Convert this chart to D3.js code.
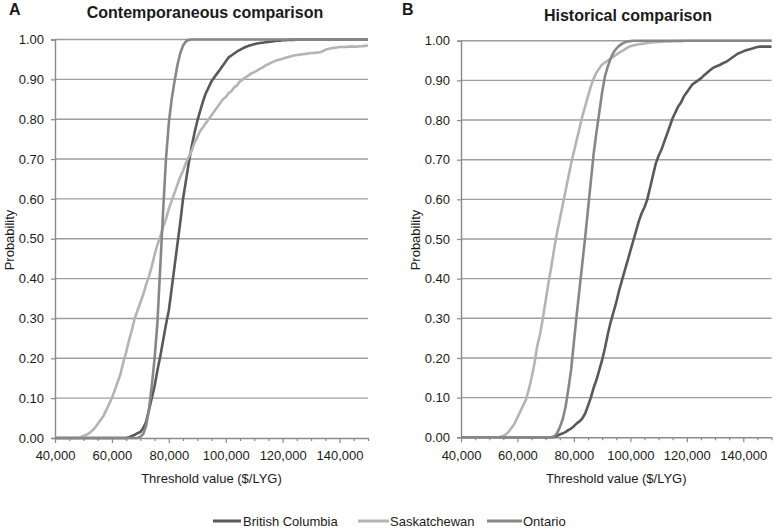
<!DOCTYPE html>
<html>
<head>
<meta charset="utf-8">
<script src="https://cdn.jsdelivr.net/npm/d3@7"></script>
<style>
  html, body { margin: 0; padding: 0; background: #fff; }
  svg { display: block; font-family: "Liberation Sans", Arial, sans-serif; }
</style>
</head>
<body>
<svg id="chart" width="774" height="531"></svg>
<script>
// ---------------- DATA ----------------
const thresholds = [
  40000,41000,42000,43000,44000,45000,46000,47000,48000,49000,
  50000,51000,52000,53000,54000,55000,56000,57000,58000,59000,
  60000,61000,62000,63000,64000,65000,66000,67000,68000,69000,
  70000,71000,72000,73000,74000,75000,76000,77000,78000,79000,
  80000,81000,82000,83000,84000,85000,86000,87000,88000,89000,
  90000,91000,92000,93000,94000,95000,96000,97000,98000,99000,
  100000,101000,102000,103000,104000,105000,106000,107000,108000,109000,
  110000,111000,112000,113000,114000,115000,116000,117000,118000,119000,
  120000,121000,122000,123000,124000,125000,126000,127000,128000,129000,
  130000,131000,132000,133000,134000,135000,136000,137000,138000,139000,
  140000,141000,142000,143000,144000,145000,146000,147000,148000,149000,
  150000
];

const seriesNames = ["British Columbia", "Saskatchewan", "Ontario"];

// Panel A: Contemporaneous comparison
const contempBC = [
  0,0,0,0,0,0,0,0,0,0,
  0,0,0,0,0,0,0,0,0,0,
  0,0,0,0,0,0,0.002,0.005,0.008,0.012,
  0.015,0.025,0.04,0.07,0.10,0.13,0.17,0.205,0.245,0.285,
  0.32,0.375,0.43,0.485,0.54,0.60,0.645,0.69,0.73,0.765,
  0.795,0.82,0.845,0.865,0.88,0.895,0.905,0.915,0.925,0.935,
  0.945,0.955,0.96,0.965,0.97,0.974,0.978,0.981,0.984,0.986,
  0.988,0.99,0.991,0.992,0.993,0.994,0.995,0.996,0.997,0.997,
  0.998,0.998,0.999,0.999,0.999,1,1,1,1,1,
  1,1,1,1,1,1,1,1,1,1,
  1,1,1,1,1,1,1,1,1,1,
  1
];
const contempSK = [
  0,0,0,0,0,0,0,0,0,0.002,
  0.005,0.008,0.012,0.018,0.025,0.035,0.045,0.055,0.07,0.085,
  0.10,0.12,0.14,0.16,0.19,0.215,0.245,0.27,0.30,0.32,
  0.34,0.36,0.385,0.405,0.43,0.46,0.485,0.505,0.53,0.55,
  0.575,0.595,0.615,0.635,0.655,0.67,0.69,0.705,0.72,0.74,
  0.755,0.77,0.78,0.79,0.80,0.81,0.82,0.83,0.84,0.85,
  0.855,0.865,0.87,0.88,0.885,0.895,0.90,0.905,0.91,0.915,
  0.918,0.922,0.926,0.93,0.935,0.938,0.942,0.945,0.948,0.95,
  0.952,0.954,0.956,0.958,0.96,0.961,0.962,0.963,0.964,0.965,
  0.966,0.966,0.967,0.968,0.97,0.974,0.976,0.978,0.979,0.98,
  0.981,0.981,0.981,0.982,0.982,0.982,0.982,0.983,0.983,0.984,
  0.985
];
const contempON = [
  0,0,0,0,0,0,0,0,0,0,
  0,0,0,0,0,0,0,0,0,0,
  0,0,0,0,0,0,0,0,0,0,
  0.003,0.01,0.03,0.07,0.13,0.2,0.29,0.43,0.57,0.70,
  0.79,0.85,0.895,0.935,0.965,0.985,0.995,0.999,1,1,
  1,1,1,1,1,1,1,1,1,1,
  1,1,1,1,1,1,1,1,1,1,
  1,1,1,1,1,1,1,1,1,1,
  1,1,1,1,1,1,1,1,1,1,
  1,1,1,1,1,1,1,1,1,1,
  1,1,1,1,1,1,1,1,1,1,
  1
];

// Panel B: Historical comparison
const histBC = [
  0,0,0,0,0,0,0,0,0,0,
  0,0,0,0,0,0,0,0,0,0,
  0,0,0,0,0,0,0,0,0,0,
  0,0,0,0.001,0.004,0.007,0.01,0.013,0.018,0.022,
  0.028,0.035,0.04,0.048,0.06,0.08,0.10,0.125,0.145,0.17,
  0.195,0.225,0.26,0.29,0.315,0.34,0.37,0.395,0.42,0.445,
  0.47,0.495,0.52,0.545,0.565,0.58,0.60,0.63,0.66,0.69,
  0.71,0.725,0.745,0.765,0.785,0.805,0.82,0.835,0.845,0.86,
  0.87,0.88,0.89,0.895,0.90,0.905,0.912,0.918,0.924,0.93,
  0.934,0.937,0.94,0.944,0.947,0.952,0.957,0.962,0.967,0.97,
  0.973,0.976,0.978,0.98,0.982,0.984,0.985,0.985,0.985,0.985,
  0.985
];
const histSK = [
  0,0,0,0,0,0,0,0,0,0,
  0,0,0,0,0.001,0.003,0.008,0.015,0.025,0.035,
  0.05,0.065,0.08,0.095,0.12,0.15,0.185,0.23,0.26,0.30,
  0.345,0.39,0.43,0.475,0.515,0.55,0.585,0.62,0.655,0.69,
  0.72,0.75,0.78,0.81,0.835,0.86,0.885,0.905,0.92,0.93,
  0.94,0.945,0.95,0.955,0.96,0.965,0.97,0.974,0.978,0.983,
  0.986,0.988,0.99,0.991,0.992,0.993,0.994,0.995,0.996,0.996,
  0.997,0.997,0.998,0.998,0.998,0.999,0.999,0.999,0.999,1,
  1,1,1,1,1,1,1,1,1,1,
  1,1,1,1,1,1,1,1,1,1,
  1,1,1,1,1,1,1,1,1,1,
  1
];
const histON = [
  0,0,0,0,0,0,0,0,0,0,
  0,0,0,0,0,0,0,0,0,0,
  0,0,0,0,0,0,0,0,0,0,
  0,0,0,0.002,0.01,0.025,0.045,0.075,0.12,0.17,
  0.24,0.31,0.375,0.44,0.505,0.575,0.645,0.715,0.77,0.82,
  0.87,0.91,0.935,0.955,0.97,0.98,0.987,0.992,0.996,0.998,
  0.999,1,1,1,1,1,1,1,1,1,
  1,1,1,1,1,1,1,1,1,1,
  1,1,1,1,1,1,1,1,1,1,
  1,1,1,1,1,1,1,1,1,1,
  1,1,1,1,1,1,1,1,1,1,
  1
];

const yTicks = [0,0.1,0.2,0.3,0.4,0.5,0.6,0.7,0.8,0.9,1.0];
const xMajorTicks = [40000,60000,80000,100000,120000,140000];
const xMinorTicks = [45000,50000,55000,65000,70000,75000,85000,90000,95000,105000,110000,115000,125000,130000,135000,145000,150000];

const panelTitles = ["Contemporaneous comparison", "Historical comparison"];
const panelLetters = ["A", "B"];
const xTitle = "Threshold value ($/LYG)";
const yTitle = "Probability";

// ---------------- STYLE ----------------
const colors = { "British Columbia": "#595959", "Saskatchewan": "#b4b4b4", "Ontario": "#878787" };
const gridColor = "#9d9d9d";
const axisColor = "#8a8a8a";
const textColor = "#1a1a1a";

const svg = d3.select("#chart");

function drawPanel(cfg) {
  const x = d3.scaleLinear().domain([40000, 150000]).range([cfg.x0, cfg.x1]);
  const y = d3.scaleLinear().domain([0, 1]).range([cfg.y0, cfg.y1]);
  const g = svg.append("g");

  // gridlines
  g.append("g").selectAll("line").data(yTicks.slice(1)).join("line")
    .attr("x1", cfg.x0).attr("x2", cfg.x1)
    .attr("y1", d => y(d)).attr("y2", d => y(d))
    .attr("stroke", gridColor).attr("stroke-width", 1.4);

  // y axis
  const ya = g.append("g").attr("transform", `translate(${cfg.x0},0)`)
    .call(d3.axisLeft(y).tickValues(yTicks).tickFormat(d3.format(".2f")).tickSize(4).tickPadding(7));
  ya.select(".domain").attr("stroke", axisColor).attr("stroke-width", 1.4);
  ya.selectAll(".tick line").attr("stroke", axisColor).attr("stroke-width", 1.2);
  ya.selectAll("text").attr("font-size", 13).attr("fill", textColor)
    .attr("font-family", "Liberation Sans, Arial, sans-serif");

  // x axis minor ticks
  const xm = g.append("g").attr("transform", `translate(0,${cfg.y0})`)
    .call(d3.axisBottom(x).tickValues(xMinorTicks).tickFormat("").tickSize(3).tickSizeOuter(0));
  xm.select(".domain").remove();
  xm.selectAll(".tick line").attr("stroke", axisColor).attr("stroke-width", 1.2);

  // x axis major
  const xa = g.append("g").attr("transform", `translate(0,${cfg.y0})`)
    .call(d3.axisBottom(x).tickValues(xMajorTicks).tickFormat(d3.format(",")).tickSize(5).tickSizeOuter(0).tickPadding(8));
  xa.select(".domain").attr("stroke", axisColor).attr("stroke-width", 1.4);
  xa.selectAll(".tick line").attr("stroke", axisColor).attr("stroke-width", 1.2);
  xa.selectAll("text").attr("font-size", 13).attr("fill", textColor)
    .attr("font-family", "Liberation Sans, Arial, sans-serif");

  // lines
  const line = d3.line().x((d, i) => x(thresholds[i])).y(d => y(d));
  const order = ["British Columbia", "Saskatchewan", "Ontario"];
  cfg.series.forEach((vals, k) => {
    g.append("path").datum(vals)
      .attr("d", line)
      .attr("fill", "none")
      .attr("stroke", colors[order[k]])
      .attr("stroke-width", 2.6)
      .attr("stroke-linejoin", "round");
  });

  // titles
  g.append("text").attr("x", cfg.letterX).attr("y", 15)
    .attr("font-size", 16).attr("font-weight", "bold").attr("fill", textColor).text(cfg.letter);
  g.append("text").attr("x", cfg.titleX).attr("y", cfg.titleY).attr("text-anchor", "middle")
    .attr("font-size", 16).attr("font-weight", "bold").attr("fill", textColor).text(cfg.title);

  // axis titles
  g.append("text").attr("x", (cfg.x0 + cfg.x1) / 2).attr("y", 483).attr("text-anchor", "middle")
    .attr("font-size", 13).attr("fill", textColor).text(xTitle);
  g.append("text").attr("transform", `translate(${cfg.yTitleX},240) rotate(-90)`)
    .attr("text-anchor", "middle").attr("font-size", 13).attr("fill", textColor).text(yTitle);
}

drawPanel({
  x0: 55, x1: 368, y0: 438, y1: 39.5,
  letter: panelLetters[0], letterX: 9, title: panelTitles[0], titleX: 205, titleY: 18, yTitleX: 14,
  series: [contempBC, contempSK, contempON]
});
drawPanel({
  x0: 461, x1: 771.5, y0: 437.3, y1: 40.7,
  letter: panelLetters[1], letterX: 402, title: panelTitles[1], titleX: 628, titleY: 21, yTitleX: 420,
  series: [histBC, histSK, histON]
});

// legend
const legendItems = [
  { name: seriesNames[0], x1: 213, x2: 241, tx: 243 },
  { name: seriesNames[1], x1: 358, x2: 389, tx: 390 },
  { name: seriesNames[2], x1: 487, x2: 522, tx: 523 }
];
const lg = svg.append("g");
legendItems.forEach(it => {
  lg.append("line").attr("x1", it.x1).attr("x2", it.x2).attr("y1", 521).attr("y2", 521)
    .attr("stroke", colors[it.name]).attr("stroke-width", 3);
  lg.append("text").attr("x", it.tx).attr("y", 526).attr("font-size", 13)
    .attr("fill", textColor).text(it.name);
});
</script>
</body>
</html>
